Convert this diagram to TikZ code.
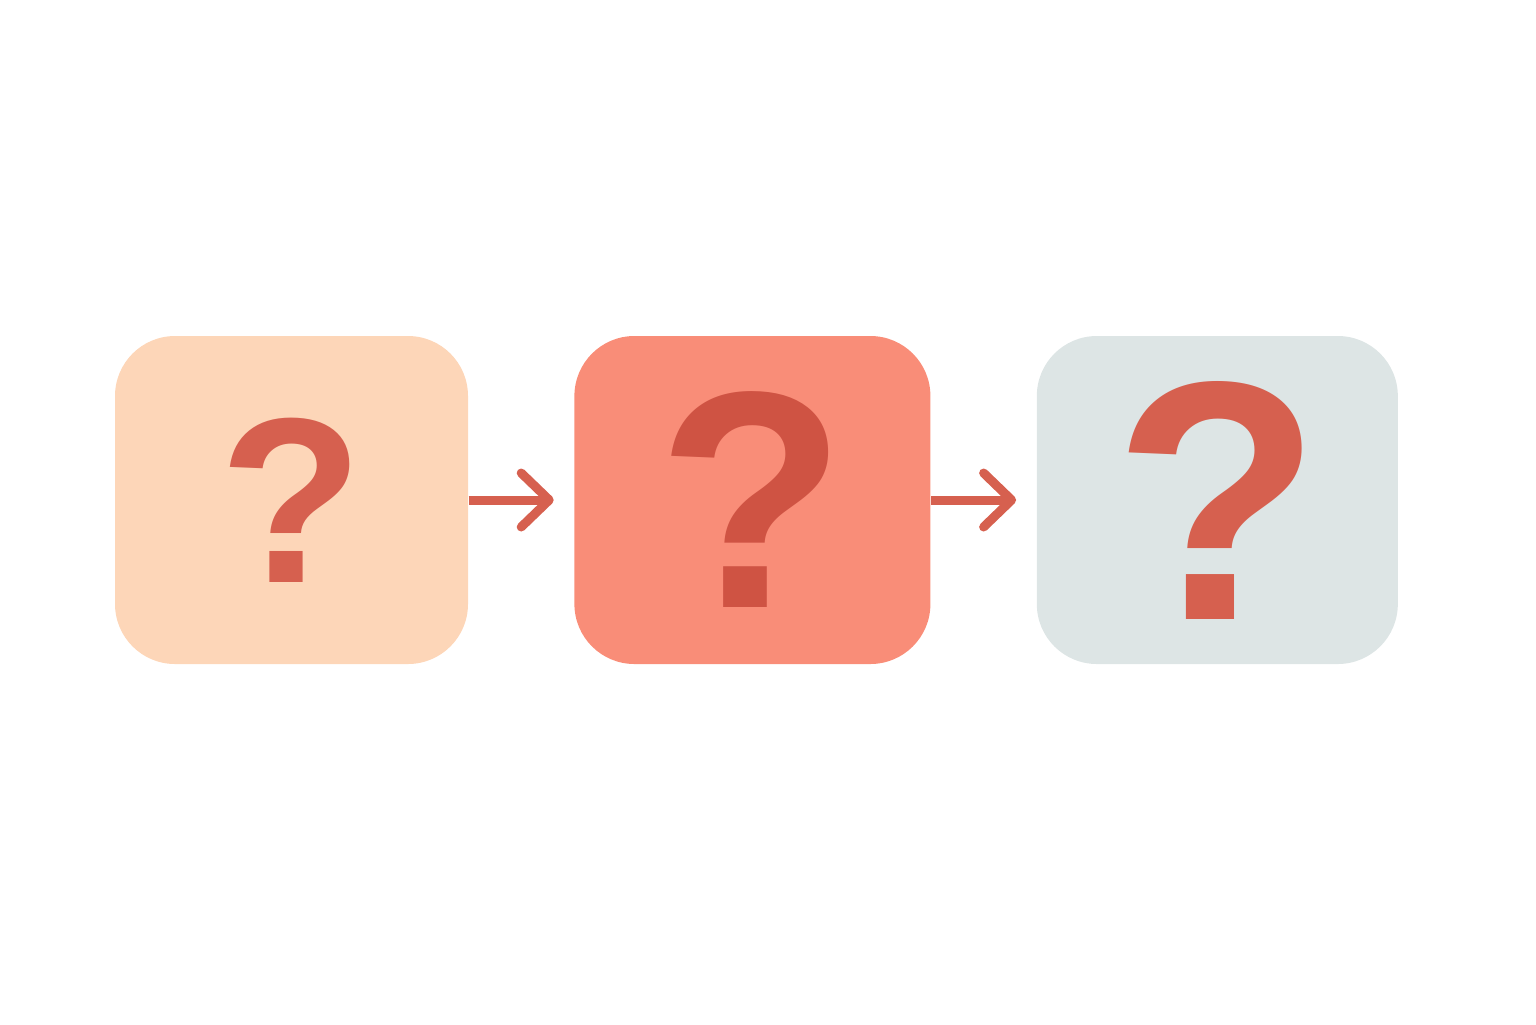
\documentclass[tikz,border=0pt]{standalone}
\usepackage{fontspec}
\setmainfont{Liberation Sans}
\usetikzlibrary{positioning,arrows.meta}
\definecolor{peach}{HTML}{FDD6B8}
\definecolor{salmon}{HTML}{F98D78}
\definecolor{mist}{HTML}{DDE5E5}
\definecolor{brick}{HTML}{D6604F}
\definecolor{darkbrick}{HTML}{CF5343}
\tikzset{->, % every connector is directed
>={Straight Barb[length=0.28cm,width=0.54cm,round]}, % open chevron heads
node distance=1.05cm, % gap between two boxes
every box/.style={rounded corners=0.6cm, minimum height=3.28cm, inner sep=0pt}, % sets the properties for each box
qmark/.style={font=\bfseries\fontsize{#1}{#1}\selectfont}, % size of the question mark
link/.style={draw=brick, line width=0.09cm, shorten >=0.2cm}, % the connectors
}

\begin{document}
\begin{tikzpicture}
\useasboundingbox (0,0) rectangle (15.36,-10.24);
\node[every box, fill=peach, minimum width=3.53cm, text=brick, qmark=67pt] (unknown) at (2.915,-5.0) {?};
\node[every box, fill=salmon, minimum width=3.56cm, text=darkbrick, qmark=88pt, right=of unknown] (guess) {?};
\node[every box, fill=mist, minimum width=3.61cm, text=brick, qmark=97pt, right=of guess] (answer) {?};
\draw[link] (unknown) -- (guess);
\draw[link] (guess) -- (answer);
\end{tikzpicture}
\end{document}
